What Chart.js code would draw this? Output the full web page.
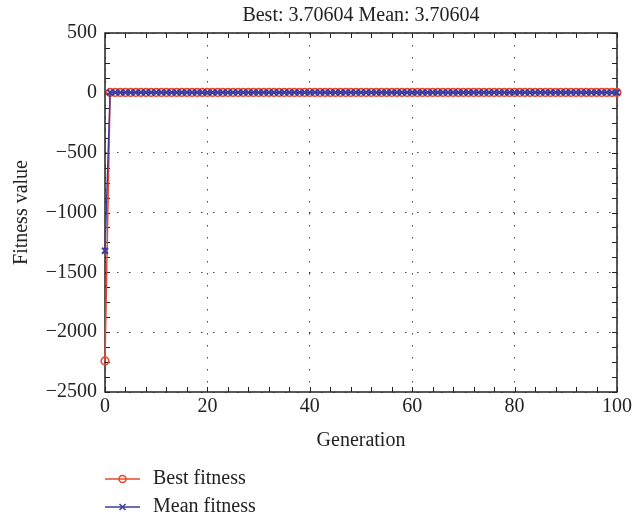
<!DOCTYPE html>
<html>
<head>
<meta charset="utf-8">
<script src="https://cdn.jsdelivr.net/npm/chart.js@4.4.1/dist/chart.umd.min.js"></script>
<style>
html, body { margin: 0; padding: 0; background: #fff; }
#chart { display: block; }
</style>
</head>
<body>
<canvas id="chart" width="635" height="522"></canvas>
<script>
var titleText = 'Best: 3.70604 Mean: 3.70604';
var seriesNames = ['Best fitness', 'Mean fitness'];
var xTicks = [0, 20, 40, 60, 80, 100];
var yTicks = [500, 0, -500, -1000, -1500, -2000, -2500];

var generations = [
    0,
    1, 2, 3, 4, 5, 6, 7, 8, 9, 10,
    11, 12, 13, 14, 15, 16, 17, 18, 19, 20,
    21, 22, 23, 24, 25, 26, 27, 28, 29, 30,
    31, 32, 33, 34, 35, 36, 37, 38, 39, 40,
    41, 42, 43, 44, 45, 46, 47, 48, 49, 50,
    51, 52, 53, 54, 55, 56, 57, 58, 59, 60,
    61, 62, 63, 64, 65, 66, 67, 68, 69, 70,
    71, 72, 73, 74, 75, 76, 77, 78, 79, 80,
    81, 82, 83, 84, 85, 86, 87, 88, 89, 90,
    91, 92, 93, 94, 95, 96, 97, 98, 99, 100
];

var bestFitness = [
    -2240,
    3.70604, 3.70604, 3.70604, 3.70604, 3.70604, 3.70604, 3.70604, 3.70604, 3.70604, 3.70604,
    3.70604, 3.70604, 3.70604, 3.70604, 3.70604, 3.70604, 3.70604, 3.70604, 3.70604, 3.70604,
    3.70604, 3.70604, 3.70604, 3.70604, 3.70604, 3.70604, 3.70604, 3.70604, 3.70604, 3.70604,
    3.70604, 3.70604, 3.70604, 3.70604, 3.70604, 3.70604, 3.70604, 3.70604, 3.70604, 3.70604,
    3.70604, 3.70604, 3.70604, 3.70604, 3.70604, 3.70604, 3.70604, 3.70604, 3.70604, 3.70604,
    3.70604, 3.70604, 3.70604, 3.70604, 3.70604, 3.70604, 3.70604, 3.70604, 3.70604, 3.70604,
    3.70604, 3.70604, 3.70604, 3.70604, 3.70604, 3.70604, 3.70604, 3.70604, 3.70604, 3.70604,
    3.70604, 3.70604, 3.70604, 3.70604, 3.70604, 3.70604, 3.70604, 3.70604, 3.70604, 3.70604,
    3.70604, 3.70604, 3.70604, 3.70604, 3.70604, 3.70604, 3.70604, 3.70604, 3.70604, 3.70604,
    3.70604, 3.70604, 3.70604, 3.70604, 3.70604, 3.70604, 3.70604, 3.70604, 3.70604, 3.70604
];

var meanFitness = [
    -1320,
    3.70604, 3.70604, 3.70604, 3.70604, 3.70604, 3.70604, 3.70604, 3.70604, 3.70604, 3.70604,
    3.70604, 3.70604, 3.70604, 3.70604, 3.70604, 3.70604, 3.70604, 3.70604, 3.70604, 3.70604,
    3.70604, 3.70604, 3.70604, 3.70604, 3.70604, 3.70604, 3.70604, 3.70604, 3.70604, 3.70604,
    3.70604, 3.70604, 3.70604, 3.70604, 3.70604, 3.70604, 3.70604, 3.70604, 3.70604, 3.70604,
    3.70604, 3.70604, 3.70604, 3.70604, 3.70604, 3.70604, 3.70604, 3.70604, 3.70604, 3.70604,
    3.70604, 3.70604, 3.70604, 3.70604, 3.70604, 3.70604, 3.70604, 3.70604, 3.70604, 3.70604,
    3.70604, 3.70604, 3.70604, 3.70604, 3.70604, 3.70604, 3.70604, 3.70604, 3.70604, 3.70604,
    3.70604, 3.70604, 3.70604, 3.70604, 3.70604, 3.70604, 3.70604, 3.70604, 3.70604, 3.70604,
    3.70604, 3.70604, 3.70604, 3.70604, 3.70604, 3.70604, 3.70604, 3.70604, 3.70604, 3.70604,
    3.70604, 3.70604, 3.70604, 3.70604, 3.70604, 3.70604, 3.70604, 3.70604, 3.70604, 3.70604
];

var RED = '#e8472d';
var BLUE = '#3d3d9e';
var TEXT = '#222';
var FAMILY = '"Liberation Serif", "Times New Roman", serif';

function toPoints(ys) {
    return generations.map(function (g, i) {
        return {x: g, y: ys[i]};
    });
}

// box, inward ticks, title and legend
var frame = {
    id: 'frame',
    beforeDatasetsDraw: function (chart) {
        var ctx = chart.ctx, a = chart.chartArea;
        var xs = chart.scales.x, ys = chart.scales.y;
        ctx.save();
        ctx.strokeStyle = '#222';
        ctx.lineWidth = 1;
        ctx.beginPath();
        for (var v = 0; v <= 100; v += 4) {
            var px = Math.round(xs.getPixelForValue(v)) + 0.5;
            ctx.moveTo(px, a.bottom); ctx.lineTo(px, a.bottom - 5);
            ctx.moveTo(px, a.top); ctx.lineTo(px, a.top + 5);
        }
        for (var w = -2500; w <= 500; w += 125) {
            var py = Math.round(ys.getPixelForValue(w)) + 0.5;
            ctx.moveTo(a.left, py); ctx.lineTo(a.left + 5, py);
            ctx.moveTo(a.right, py); ctx.lineTo(a.right - 5, py);
        }
        ctx.stroke();
        ctx.lineWidth = 1.5;
        ctx.strokeRect(a.left, a.top, a.right - a.left, a.bottom - a.top);
        ctx.restore();
    },
    afterDraw: function (chart) {
        var ctx = chart.ctx, a = chart.chartArea;
        ctx.save();
        ctx.font = '20px ' + FAMILY;
        ctx.fillStyle = TEXT;
        ctx.textAlign = 'center';
        ctx.textBaseline = 'middle';
        ctx.fillText(titleText, (a.left + a.right) / 2, 16);

        ctx.textAlign = 'left';
        var rows = [479, 507];
        chart.data.datasets.forEach(function (ds, i) {
            var y = rows[i];
            ctx.strokeStyle = ds.borderColor;
            ctx.lineWidth = 1.5;
            ctx.beginPath();
            ctx.moveTo(105, y); ctx.lineTo(140, y);
            ctx.stroke();
            ctx.beginPath();
            if (ds.pointStyle === 'circle') {
                ctx.arc(122.5, y, 3.5, 0, Math.PI * 2);
            } else {
                ctx.moveTo(119.5, y - 3); ctx.lineTo(125.5, y + 3);
                ctx.moveTo(125.5, y - 3); ctx.lineTo(119.5, y + 3);
            }
            ctx.stroke();
            ctx.fillStyle = TEXT;
            ctx.fillText(ds.label, 153, y);
        });
        ctx.restore();
    }
};

var ctx = document.getElementById('chart').getContext('2d');
new Chart(ctx, {
    type: 'line',
    data: {
        datasets: [{
            label: seriesNames[0],
            data: toPoints(bestFitness),
            borderColor: RED,
            borderWidth: 1.5,
            pointStyle: 'circle',
            pointRadius: 3.8,
            pointBorderWidth: 1.6,
            pointBorderColor: RED,
            pointBackgroundColor: 'rgba(255,255,255,0)',
            tension: 0,
            clip: false,
            order: 1
        }, {
            label: seriesNames[1],
            data: toPoints(meanFitness),
            borderColor: BLUE,
            borderWidth: 1.5,
            pointStyle: 'crossRot',
            pointRadius: 4.2,
            pointBorderWidth: 2,
            pointBorderColor: BLUE,
            pointBackgroundColor: BLUE,
            tension: 0,
            clip: false,
            order: 0
        }]
    },
    options: {
        responsive: false,
        animation: false,
        events: [],
        layout: {padding: {left: 0, top: 33, right: 15, bottom: 65}},
        plugins: {
            legend: {display: false},
            title: {display: false},
            tooltip: {enabled: false}
        },
        scales: {
            x: {
                type: 'linear',
                min: 0,
                max: 100,
                afterBuildTicks: function (s) {
                    s.ticks = xTicks.map(function (v) { return {value: v}; });
                },
                afterFit: function (s) { s.height = 65; },
                ticks: {
                    padding: 3,
                    color: TEXT,
                    font: {family: FAMILY, size: 20},
                    maxRotation: 0
                },
                grid: {color: '#444', lineWidth: 1, drawTicks: false},
                border: {display: false, dash: [1.5, 10.5]},
                title: {
                    display: true,
                    text: 'Generation',
                    color: TEXT,
                    font: {family: FAMILY, size: 20},
                    padding: {top: 0, bottom: 4}
                }
            },
            y: {
                type: 'linear',
                min: -2500,
                max: 500,
                afterBuildTicks: function (s) {
                    s.ticks = yTicks.map(function (v) { return {value: v}; });
                },
                afterFit: function (s) { s.width = 105; },
                ticks: {
                    padding: 8,
                    color: TEXT,
                    font: {family: FAMILY, size: 20},
                    callback: function (v) { return String(v).replace('-', '\u2212'); }
                },
                grid: {color: '#444', lineWidth: 1, drawTicks: false},
                border: {display: false, dash: [1.5, 10.5]},
                title: {
                    display: true,
                    text: 'Fitness value',
                    color: TEXT,
                    font: {family: FAMILY, size: 20},
                    padding: {top: 10, bottom: 0}
                }
            }
        }
    },
    plugins: [frame]
});
</script>
</body>
</html>
